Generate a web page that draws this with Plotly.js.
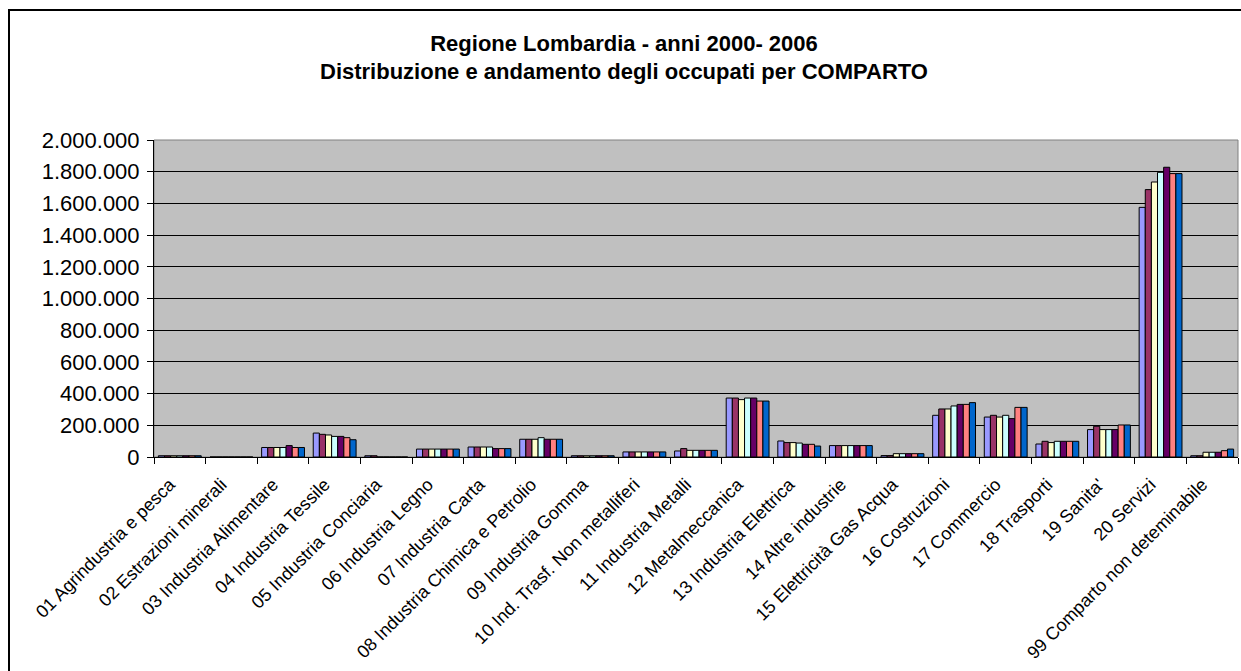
<!DOCTYPE html>
<html>
<head>
<meta charset="utf-8">
<script src="https://cdn.plot.ly/plotly-3.0.1.min.js"></script>
<style>
  html, body { margin: 0; padding: 0; background: #ffffff; overflow: hidden; }
  #wrap { position: relative; width: 1241px; height: 671px; overflow: hidden; }
  #chart { position: absolute; left: 0; top: 0; width: 1241px; height: 671px; }
  #frame { position: absolute; left: 8px; top: 9px; width: 1300px; height: 700px;
           border-left: 2px solid #000; border-top: 2px solid #000; pointer-events: none; }
</style>
</head>
<body>
<div id="wrap">
  <div id="chart"></div>
  <div id="frame"></div>
</div>
<script>
const categories = [
  "01 Agrindustria e pesca",
  "02 Estrazioni minerali",
  "03 Industria Alimentare",
  "04 Industria Tessile",
  "05 Industria Conciaria",
  "06 Industria Legno",
  "07 Industria Carta",
  "08 Industria Chimica e Petrolio",
  "09 Industria Gomma",
  "10 Ind. Trasf. Non metalliferi",
  "11 Industria Metalli",
  "12 Metalmeccanica",
  "13 Industria Elettrica",
  "14 Altre industrie",
  "15 Elettricità Gas Acqua",
  "16 Costruzioni",
  "17 Commercio",
  "18 Trasporti",
  "19 Sanita'",
  "20 Servizi",
  "99 Comparto non deteminabile"
];

const years = ["2000", "2001", "2002", "2003", "2004", "2005", "2006"];

const titleLine1 = "Regione Lombardia - anni 2000- 2006";
const titleLine2 = "Distribuzione e andamento degli occupati per COMPARTO";

const y2000 = [8000, 0, 60000, 151000, 8000, 50000, 63000, 112000, 8000, 32000, 38000, 372000, 101000, 72000, 9000, 263000, 252000, 82000, 173000, 1575000, 8000];
const y2001 = [8000, 0, 60000, 143000, 8000, 50000, 63000, 112000, 8000, 32000, 53000, 372000, 91000, 72000, 9000, 303000, 263000, 99000, 194000, 1687000, 8000];
const y2002 = [8000, 0, 60000, 139000, 0, 50000, 63000, 112000, 8000, 32000, 42000, 362000, 91000, 72000, 21000, 303000, 252000, 91000, 173000, 1735000, 30000];
const y2003 = [8000, 0, 60000, 130000, 0, 50000, 63000, 122000, 8000, 32000, 42000, 372000, 88000, 72000, 21000, 322000, 263000, 99000, 173000, 1796000, 30000];
const y2004 = [8000, 0, 72000, 130000, 0, 50000, 53000, 112000, 8000, 32000, 42000, 372000, 80000, 72000, 21000, 332000, 242000, 99000, 173000, 1828000, 30000];
const y2005 = [8000, 0, 60000, 122000, 0, 50000, 53000, 112000, 8000, 32000, 42000, 353000, 80000, 72000, 21000, 332000, 313000, 99000, 202000, 1788000, 40000];
const y2006 = [8000, 0, 60000, 109000, 0, 50000, 53000, 112000, 8000, 32000, 42000, 353000, 69000, 72000, 21000, 343000, 313000, 99000, 202000, 1788000, 50000];

const seriesValues = [y2000, y2001, y2002, y2003, y2004, y2005, y2006];
const seriesColors = ["#9999FF", "#993366", "#FFFFCC", "#CCFFFF", "#660066", "#FF8080", "#0066CC"];

const traces = seriesValues.map((vals, i) => ({
  type: "bar",
  name: years[i],
  x: categories,
  y: vals,
  marker: { color: seriesColors[i], line: { color: "#000000", width: 1 } },
  hoverinfo: "x+y+name"
}));

// plot area in pixels: x 154..1238, y 140..457
const L = 154, R = 3, T = 140, B = 214;
const PH = 671 - T - B;
const py = v => (671 - B - v) / PH;

const FONT = "Liberation Sans, Arial, sans-serif";

const layout = {
  width: 1241,
  height: 671,
  margin: { l: L, r: R, t: T, b: B, pad: 0 },
  paper_bgcolor: "#ffffff",
  plot_bgcolor: "#C0C0C0",
  separators: ",.",
  showlegend: false,
  bargap: 0.17,
  bargroupgap: 0,
  barmode: "group",
  font: { family: FONT, color: "#000000" },
  title: {
    text: titleLine1,
    font: { family: FONT, size: 22, color: "#000000", weight: "bold" },
    x: 624 / 1241,
    xref: "container",
    xanchor: "center",
    y: 1 - 43 / 671,
    yref: "container",
    yanchor: "middle"
  },
  annotations: [
    {
      text: titleLine2,
      font: { family: FONT, size: 22, color: "#000000", weight: "bold" },
      xref: "paper", yref: "paper",
      x: (624 - L) / (1241 - L - R),
      y: py(71),
      xanchor: "center", yanchor: "middle",
      showarrow: false
    }
  ],
  xaxis: {
    type: "category",
    tickangle: -45,
    tickfont: { size: 18, color: "#000000" },
    ticks: "outside",
    tickson: "boundaries",
    ticklen: 6,
    tickcolor: "#000000",
    tickwidth: 1,
    ticklabelstandoff: 9,
    ticklabelshift: -10,
    showline: true,
    linecolor: "#000000",
    linewidth: 1,
    showgrid: false,
    automargin: false
  },
  yaxis: {
    range: [0, 2000000],
    dtick: 200000,
    tick0: 0,
    tickformat: ",d",
    tickfont: { size: 22, color: "#000000" },
    ticks: "outside",
    ticklen: 6,
    tickcolor: "#000000",
    tickwidth: 1,
    ticklabelstandoff: 3,
    showline: true,
    linecolor: "#000000",
    linewidth: 1,
    showgrid: true,
    gridcolor: "#000000",
    gridwidth: 1,
    zeroline: false,
    automargin: false
  },
  shapes: [
    {
      type: "rect", xref: "paper", yref: "paper",
      x0: 0, x1: 1, y0: 0, y1: 1,
      line: { color: "#808080", width: 1 },
      layer: "below"
    }
  ]
};

Plotly.newPlot("chart", traces, layout, { displayModeBar: false, staticPlot: true });
</script>
</body>
</html>
